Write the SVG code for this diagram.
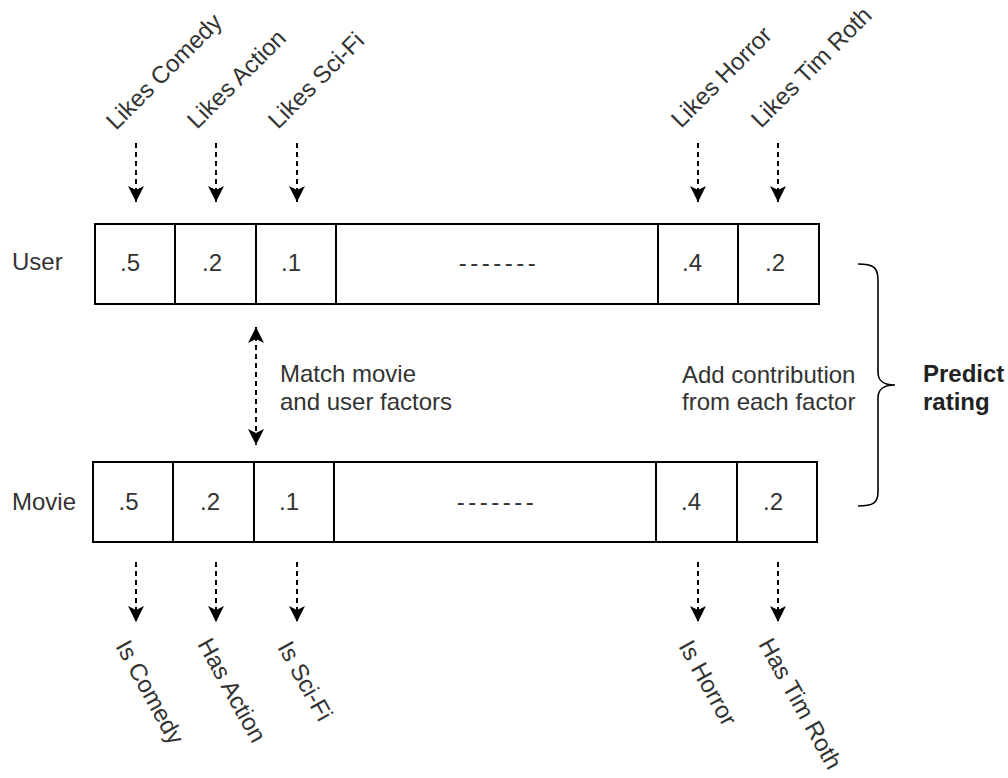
<svg xmlns="http://www.w3.org/2000/svg" width="1008" height="778" viewBox="0 0 1008 778">
<style>
.t{font-family:"Liberation Sans",Arial,sans-serif;font-size:24px;fill:#333}
.c{text-anchor:middle}
.b{font-weight:bold;fill:#222}
.box{fill:#fff;stroke:#000;stroke-width:2}
.ln{stroke:#000;stroke-width:2}
.dash{fill:none;stroke:#000;stroke-width:2;stroke-dasharray:5 4}
.br{fill:none;stroke:#000;stroke-width:1.6}
</style>
<defs>
<marker id="ah" markerUnits="userSpaceOnUse" markerWidth="18" markerHeight="18" viewBox="0 -9 17 18" refX="16" refY="0" orient="auto-start-reverse">
<path d="M0,-8 L16,0 L0,8 L4,0 Z" fill="#000"/>
</marker>
</defs>
<rect width="1008" height="778" fill="#fff"/>

<g id="user-row">
<rect class="box" x="95" y="224" width="724" height="80"/>
<line class="ln" x1="175" y1="224" x2="175" y2="304"/>
<line class="ln" x1="256" y1="224" x2="256" y2="304"/>
<line class="ln" x1="336" y1="224" x2="336" y2="304"/>
<line class="ln" x1="658" y1="224" x2="658" y2="304"/>
<line class="ln" x1="738" y1="224" x2="738" y2="304"/>
<text class="t c" x="130" y="271">.5</text>
<text class="t c" x="212" y="271">.2</text>
<text class="t c" x="291" y="271">.1</text>
<text class="t c" x="499" y="271" letter-spacing="3.5">-------</text>
<text class="t c" x="692" y="271">.4</text>
<text class="t c" x="775" y="271">.2</text>
</g>

<g id="movie-row">
<rect class="box" x="93" y="462" width="724" height="80"/>
<line class="ln" x1="173" y1="462" x2="173" y2="542"/>
<line class="ln" x1="254" y1="462" x2="254" y2="542"/>
<line class="ln" x1="334" y1="462" x2="334" y2="542"/>
<line class="ln" x1="656" y1="462" x2="656" y2="542"/>
<line class="ln" x1="737" y1="462" x2="737" y2="542"/>
<text class="t c" x="128.5" y="510">.5</text>
<text class="t c" x="210" y="510">.2</text>
<text class="t c" x="289" y="510">.1</text>
<text class="t c" x="497" y="510" letter-spacing="3.5">-------</text>
<text class="t c" x="691" y="510">.4</text>
<text class="t c" x="773" y="510">.2</text>
</g>

<g id="row-labels">
<text class="t" x="12" y="270">User</text>
<text class="t" x="12" y="510">Movie</text>
</g>

<g id="user-factor-labels">
<text class="t" x="116" y="131" transform="rotate(-45 116 131)">Likes Comedy</text>
<text class="t" x="197" y="130" transform="rotate(-45 197 130)">Likes Action</text>
<text class="t" x="278" y="130" transform="rotate(-45 278 130)">Likes Sci-Fi</text>
<text class="t" x="681" y="129" transform="rotate(-45 681 129)">Likes Horror</text>
<text class="t" x="761" y="129" transform="rotate(-45 761 129)">Likes Tim Roth</text>
</g>

<g id="movie-factor-labels">
<text class="t" x="115" y="646" transform="rotate(61 115 646)">Is Comedy</text>
<text class="t" x="197" y="644" transform="rotate(61 197 644)">Has Action</text>
<text class="t" x="277" y="647" transform="rotate(61 277 647)">Is Sci-Fi</text>
<text class="t" x="678" y="646" transform="rotate(61 678 646)">Is Horror</text>
<text class="t" x="758" y="644" transform="rotate(61 758 644)">Has Tim Roth</text>
</g>

<g id="connectors">
<line class="dash" x1="136" y1="143" x2="136" y2="202" marker-end="url(#ah)"/>
<line class="dash" x1="216" y1="143" x2="216" y2="202" marker-end="url(#ah)"/>
<line class="dash" x1="297" y1="143" x2="297" y2="202" marker-end="url(#ah)"/>
<line class="dash" x1="698" y1="143" x2="698" y2="202" marker-end="url(#ah)"/>
<line class="dash" x1="778" y1="143" x2="778" y2="202" marker-end="url(#ah)"/>
<line class="dash" x1="136" y1="562" x2="136" y2="622" marker-end="url(#ah)"/>
<line class="dash" x1="216" y1="562" x2="216" y2="622" marker-end="url(#ah)"/>
<line class="dash" x1="297" y1="562" x2="297" y2="622" marker-end="url(#ah)"/>
<line class="dash" x1="698" y1="562" x2="698" y2="622" marker-end="url(#ah)"/>
<line class="dash" x1="778" y1="562" x2="778" y2="622" marker-end="url(#ah)"/>
<line class="dash" x1="256" y1="327" x2="256" y2="445" marker-start="url(#ah)" marker-end="url(#ah)"/>
</g>

<g id="match-label">
<text class="t" x="280" y="382">Match movie</text>
<text class="t" x="280" y="410">and user factors</text>
</g>

<g id="add-label">
<text class="t" x="682" y="383">Add contribution</text>
<text class="t" x="682" y="410">from each factor</text>
</g>

<g id="brace">
<path class="br" d="M858,264 C873,264 878,267 878,280 L878,372 C878,381 883,385 895,385 C883,385 878,389 878,398 L878,492 C878,503 873,506 858,506"/>
</g>

<g id="predict-label">
<text class="t b" x="923" y="382">Predict</text>
<text class="t b" x="923" y="410">rating</text>
</g>
</svg>
